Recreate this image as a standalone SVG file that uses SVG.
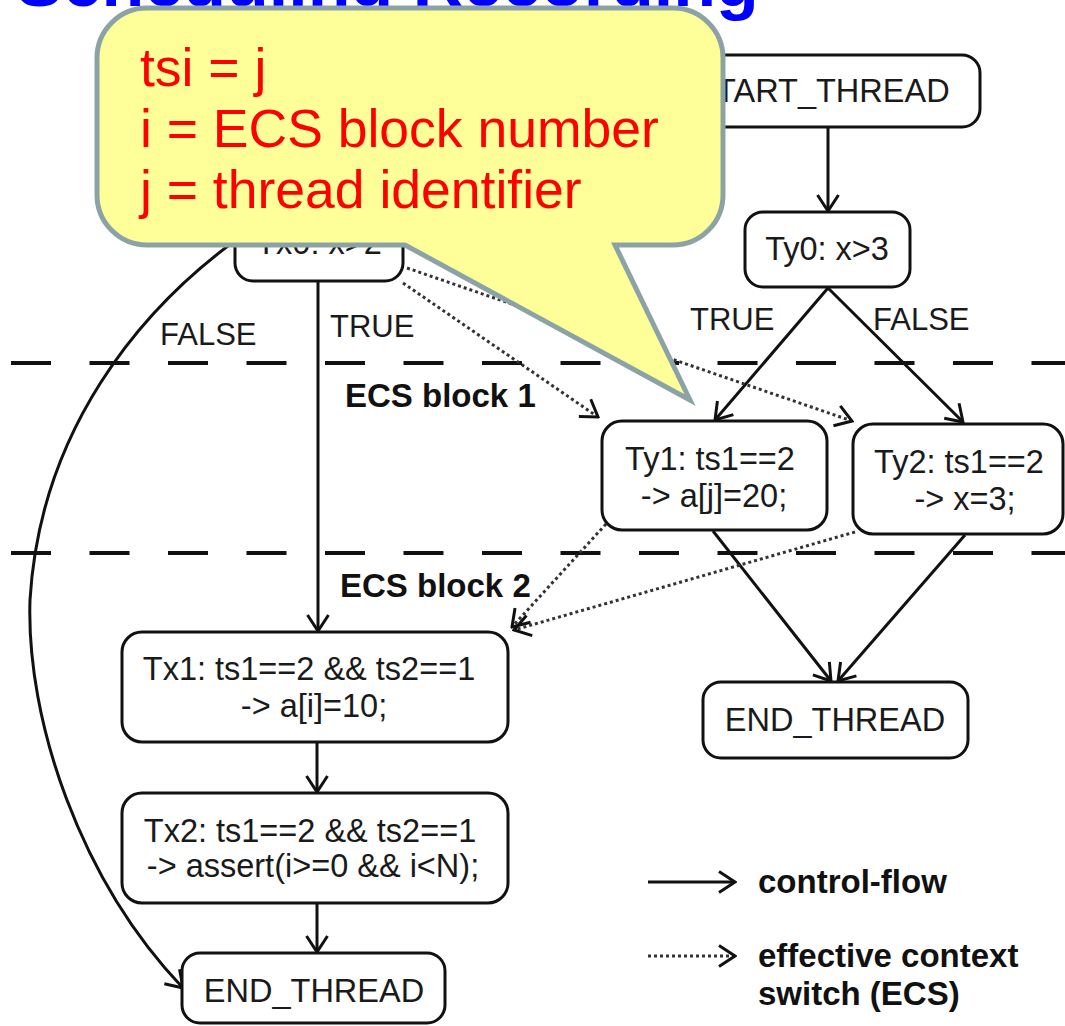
<svg xmlns="http://www.w3.org/2000/svg" width="1065" height="1026" viewBox="0 0 1065 1026">
  <style>
    .node rect { fill: #ffffff; stroke: #111111; stroke-width: 3; }
    .node text { font-family: "Liberation Sans", Arial, sans-serif; font-size: 32.5px; fill: #1a1a1a; text-anchor: middle; }
    .lbl { font-family: "Liberation Sans", Arial, sans-serif; font-size: 31px; fill: #1a1a1a; }
    .bold { font-family: "Liberation Sans", Arial, sans-serif; font-size: 33px; font-weight: bold; fill: #111111; }
    .flow { fill: none; stroke: #111111; stroke-width: 3; marker-end: url(#open); }
    .ecs { fill: none; stroke: #333333; stroke-width: 3; stroke-dasharray: 3 3; marker-end: url(#open); }
    .sep { stroke: #111111; stroke-width: 4; stroke-dasharray: 40 38.5; }
    .note { font-family: "Liberation Sans", Arial, sans-serif; font-size: 53.5px; fill: #ff0000; }
  </style>
  <defs>
    <marker id="open" viewBox="0 0 20 24" refX="18" refY="12" markerWidth="20" markerHeight="24" markerUnits="userSpaceOnUse" orient="auto">
      <path d="M 2 1.5 L 18 12 L 2 22.5" fill="none" stroke="#111111" stroke-width="3"/>
    </marker>
  </defs>

  <rect width="1065" height="1026" fill="#ffffff"/>

  <!-- slide title, mostly above the top edge -->
  <text x="16" y="6" font-family="Liberation Sans, Arial, sans-serif" font-size="70" font-weight="bold" fill="#0000ff">Scheduling Recording</text>

  <!-- ECS block separators -->
  <g id="separators">
    <line class="sep" x1="11" y1="363" x2="1065" y2="363"/>
    <line class="sep" x1="11" y1="553" x2="1065" y2="553"/>
  </g>

  <!-- connectors -->
  <g id="connectors">
    <path class="flow" d="M 828 127 V 211"/>
    <path class="flow" d="M 828 288 L 715 420"/>
    <path class="flow" d="M 828 288 L 963 422"/>
    <path class="flow" d="M 318 281 V 631"/>
    <path class="flow" d="M 317 742 V 792"/>
    <path class="flow" d="M 317 903 V 952"/>
    <path class="flow" d="M 713 531 L 831 681"/>
    <path class="flow" d="M 965 535 L 838 681"/>
    <path class="flow" d="M 236 240 C 140 310, 40 430, 30 600 C 26 720, 80 880, 183 988"/>
    <path class="ecs" d="M 403 283 L 598 417"/>
    <path class="ecs" d="M 407 268 L 852 421"/>
    <path class="ecs" d="M 606 524 L 512 627"/>
    <path class="ecs" d="M 855 532 L 514 630"/>
  </g>

  <!-- branch and block labels -->
  <g id="labels">
    <text class="lbl" x="160" y="345">FALSE</text>
    <text class="lbl" x="330" y="337">TRUE</text>
    <text class="lbl" x="690" y="330">TRUE</text>
    <text class="lbl" x="873" y="330">FALSE</text>
    <text class="bold" x="345" y="407" font-size="34">ECS block 1</text>
    <text class="bold" x="340" y="597" font-size="34">ECS block 2</text>
  </g>

  <!-- nodes -->
  <g id="n-start" class="node">
    <rect x="672" y="55" width="308" height="72" rx="18"/>
    <text x="822" y="102">START_THREAD</text>
  </g>
  <g id="n-ty0" class="node">
    <rect x="745" y="212" width="165" height="75" rx="18"/>
    <text x="827" y="260">Ty0: x&gt;3</text>
  </g>
  <g id="n-tx0" class="node">
    <rect x="235" y="206" width="168" height="75" rx="18"/>
    <text x="319" y="254">Tx0: x&gt;2</text>
  </g>
  <g id="n-ty1" class="node">
    <rect x="602" y="421" width="225" height="109" rx="20"/>
    <text x="710" y="470">Ty1: ts1==2</text>
    <text x="714" y="507">-&gt; a[j]=20;</text>
  </g>
  <g id="n-ty2" class="node">
    <rect x="853" y="424" width="210" height="110" rx="20"/>
    <text x="959" y="473">Ty2: ts1==2</text>
    <text x="965" y="510">-&gt; x=3;</text>
  </g>
  <g id="n-tx1" class="node">
    <rect x="122" y="632" width="386" height="110" rx="20"/>
    <text x="309" y="680">Tx1: ts1==2 &amp;&amp; ts2==1</text>
    <text x="314" y="717">-&gt; a[i]=10;</text>
  </g>
  <g id="n-tx2" class="node">
    <rect x="122" y="793" width="386" height="110" rx="20"/>
    <text x="310" y="842">Tx2: ts1==2 &amp;&amp; ts2==1</text>
    <text x="313" y="877">-&gt; assert(i&gt;=0 &amp;&amp; i&lt;N);</text>
  </g>
  <g id="n-end1" class="node">
    <rect x="182" y="953" width="263" height="70" rx="18"/>
    <text x="314" y="1002">END_THREAD</text>
  </g>
  <g id="n-end2" class="node">
    <rect x="703" y="682" width="265" height="76" rx="18"/>
    <text x="835" y="731">END_THREAD</text>
  </g>

  <!-- legend -->
  <g id="legend">
    <path class="flow" d="M 648 882 H 735"/>
    <path class="ecs" d="M 648 956 H 735"/>
    <text class="bold" x="758" y="893">control-flow</text>
    <text class="bold" x="758" y="967">effective context</text>
    <text class="bold" x="758" y="1005">switch (ECS)</text>
  </g>

  <!-- callout note -->
  <g id="callout">
    <path d="M 147 8 H 673 A 50 50 0 0 1 723 58 V 195 A 50 50 0 0 1 673 245 H 615 L 690 400 L 405 245 H 147 A 50 50 0 0 1 97 195 V 58 A 50 50 0 0 1 147 8 Z" fill="#ffff99" stroke="#8ca3a6" stroke-width="5" stroke-linejoin="miter"/>
    <text class="note" x="140" y="86">tsi = j</text>
    <text class="note" x="140" y="147">i = ECS block number</text>
    <text class="note" x="140" y="208">j = thread identifier</text>
  </g>
</svg>
